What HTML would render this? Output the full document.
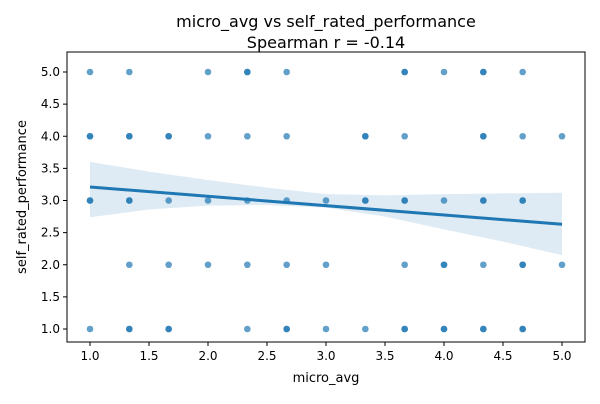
<!DOCTYPE html>
<html><head><meta charset="utf-8"><style>
body{margin:0;background:#fff;font-family:"DejaVu Sans","Liberation Sans",sans-serif}
svg text{font-family:"DejaVu Sans","Liberation Sans",sans-serif;fill:#000}
</style></head><body>
<svg id="chart" width="600" height="400">
<text x="326" y="27" font-size="16" text-anchor="middle">micro_avg vs self_rated_performance</text>
<text x="326" y="48" font-size="16" text-anchor="middle">Spearman r = -0.14</text>
<g id="plot"></g>
<rect x="67" y="52" width="518" height="290" fill="none" stroke="#000" stroke-width="1"/>
<text x="326" y="382" font-size="13" text-anchor="middle">micro_avg</text>
<text transform="translate(26,197) rotate(-90)" font-size="13" text-anchor="middle">self_rated_performance</text>
</svg>
<script>
const xTicks=[1.0,1.5,2.0,2.5,3.0,3.5,4.0,4.5,5.0];
const yTicks=[1.0,1.5,2.0,2.5,3.0,3.5,4.0,4.5,5.0];
const t=1/3;
const ptX=[1,1+t,2,2+t,2+t,2+2*t,3+2*t,3+2*t,4,4+t,4+t,4+2*t,
 1,1,1+t,1+t,1+2*t,1+2*t,2,2+t,2+2*t,3+t,3+t,3+2*t,4+t,4+t,4+2*t,5,
 1,1,1+t,1+t,1+2*t,2,2+t,2+2*t,3,3+t,3+t,3+2*t,3+2*t,4,4+t,4+t,4+2*t,4+2*t,
 1+t,1+2*t,2,2+t,2+2*t,3,3+2*t,4,4,4+t,4+2*t,4+2*t,5,
 1,1+t,1+t,1+2*t,1+2*t,2+t,2+2*t,2+2*t,3,3+t,3+2*t,3+2*t,4,4,4+t,4+t,4+2*t,4+2*t];
const ptY=[5,5,5,5,5,5,5,5,5,5,5,5,
 4,4,4,4,4,4,4,4,4,4,4,4,4,4,4,4,
 3,3,3,3,3,3,3,3,3,3,3,3,3,3,3,3,3,3,
 2,2,2,2,2,2,2,2,2,2,2,2,2,
 1,1,1,1,1,1,1,1,1,1,1,1,1,1,1,1,1,1];
const lineX=[1,5];
const lineY=[3.21,2.63];
const ciX=[1,1.5,2,2.5,3,3.5,4,4.5,5];
const ciHigh=[3.6,3.45,3.32,3.2,3.1,3.08,3.1,3.11,3.12];
const ciLow=[2.74,2.86,2.92,2.93,2.89,2.75,2.55,2.36,2.15];
const sx=v=>90+(v-1)*118;
const sy=v=>329-(v-1)*64.25;
const NS="http://www.w3.org/2000/svg";
const g=document.getElementById('plot');
function mk(tag,attrs){const e=document.createElementNS(NS,tag);for(const k in attrs)e.setAttribute(k,attrs[k]);g.appendChild(e);return e;}
xTicks.forEach(v=>{
 const l=mk('line',{x1:sx(v),x2:sx(v),y1:342,y2:346,stroke:'#000'});
 
 
 const tx=mk('text',{x:sx(v),y:360,'font-size':12,'text-anchor':'middle'});tx.textContent=v.toFixed(1);
 
 
});
yTicks.forEach(v=>{
 const l=mk('line',{x1:63,x2:67,y1:sy(v),y2:sy(v),stroke:'#000'});
 
 
 const tx=mk('text',{x:60,y:sy(v)+4,'font-size':12,'text-anchor':'end'});tx.textContent=v.toFixed(1);
 
 
});
ptX.forEach((x,i)=>{
 const c=mk('circle',{cx:sx(x),cy:sy(ptY[i]),r:3.3,fill:'#1f77b4','fill-opacity':0.7});
 
 
});
let d='';
ciX.forEach((x,i)=>{d+=(i?'L':'M')+sx(x)+','+sy(ciHigh[i]);});
for(let i=ciX.length-1;i>=0;i--)d+='L'+sx(ciX[i])+','+sy(ciLow[i]);
const band=mk('path',{d:d+'Z',fill:'#1f77b4','fill-opacity':0.15,stroke:'none'});


const rl=mk('line',{x1:sx(lineX[0]),y1:sy(lineY[0]),x2:sx(lineX[1]),y2:sy(lineY[1]),stroke:'#1f77b4','stroke-width':3});


</script>
</body></html>
